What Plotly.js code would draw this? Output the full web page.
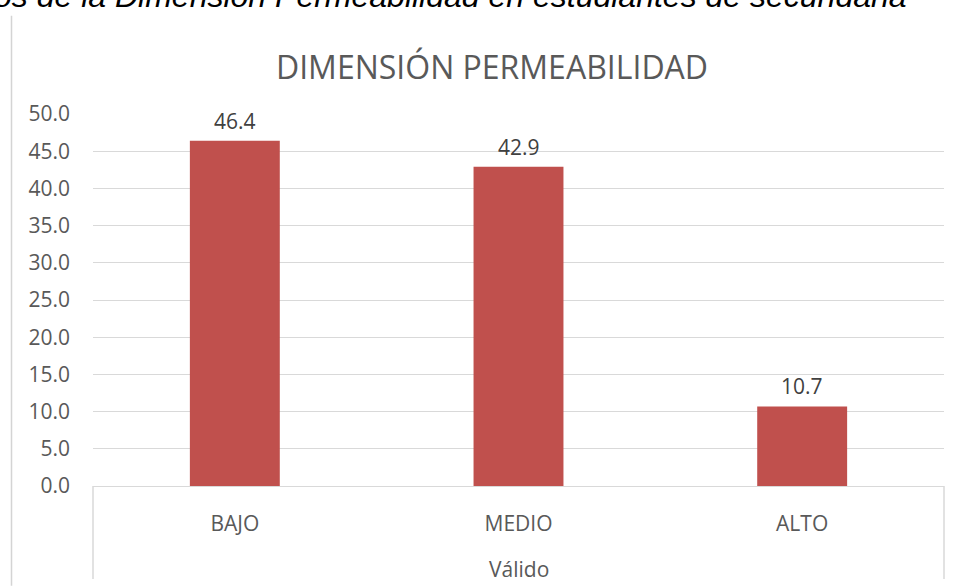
<!DOCTYPE html>
<html>
<head>
<meta charset="utf-8">
<script src="https://cdn.plot.ly/plotly-3.0.1.min.js"></script>
<style>html,body{margin:0;padding:0;background:#fff;}#chart{width:960px;height:586px;}</style>
</head>
<body>
<div id="chart"></div>
<script>
const categories = ["BAJO", "MEDIO", "ALTO"];
const values = [46.4, 42.9, 10.7];
const groupLabel = "Válido";
const chartTitle = "DIMENSIÓN PERMEABILIDAD";
const captionText = "os de la Dimensión Permeabilidad en estudiantes de secundaria";
const yTicks = [0, 5, 10, 15, 20, 25, 30, 35, 40, 45, 50];

const plotTop = 113.5, plotBottom = 486;
const ph = plotBottom - plotTop;
const py = p => (plotBottom - p) / ph;
const pl = 93, pr = 944, pw = pr - pl;
const px = p => (p - pl) / pw;

const trace = {
  type: "bar",
  x: categories,
  y: values,
  marker: {color: "#c0504d"},
  hoverinfo: "none"
};

const valueLabels = categories.map((c, i) => ({
  text: values[i].toFixed(1), xref: "x", yref: "y",
  x: c, y: values[i], yshift: 20, xanchor: "center", yanchor: "middle",
  showarrow: false,
  font: {family: "Open Sans", size: 21, color: "#404040"}
}));

const layout = {
  width: 960, height: 586,
  margin: {l: pl, r: 960 - pr, t: plotTop, b: 586 - plotBottom},
  paper_bgcolor: "#ffffff", plot_bgcolor: "#ffffff",
  showlegend: false,
  bargap: 0.683,
  title: {
    text: chartTitle,
    font: {family: "Open Sans", size: 32, color: "#595959"},
    x: 492 / 960, xref: "container", xanchor: "center",
    y: 1 - 68 / 586, yref: "container", yanchor: "middle"
  },
  xaxis: {
    type: "category",
    showgrid: false, zeroline: false,
    showline: true, linecolor: "#d9d9d9", linewidth: 1,
    ticks: "", ticklabelstandoff: 19,
    tickfont: {family: "Open Sans", size: 21, color: "#595959"}
  },
  yaxis: {
    range: [0, 50],
    tickvals: yTicks,
    ticktext: yTicks.map(v => v.toFixed(1)),
    showgrid: true, gridcolor: "#d9d9d9", gridwidth: 1,
    zeroline: false, showline: false,
    ticks: "", ticklabelstandoff: 22,
    tickfont: {family: "Open Sans", size: 21, color: "#595959"}
  },
  annotations: valueLabels.concat([
    {
      text: groupLabel, xref: "paper", yref: "paper",
      x: 0.5, y: py(569), xanchor: "center", yanchor: "middle",
      showarrow: false,
      font: {family: "Open Sans", size: 21, color: "#595959"}
    },
    {
      text: "<i>" + captionText + "</i>", xref: "paper", yref: "paper",
      x: px(-8), y: py(15), xanchor: "left", yanchor: "bottom",
      showarrow: false,
      font: {family: "Liberation Sans", size: 32, color: "#000000"}
    }
  ]),
  shapes: [
    {type: "line", xref: "x domain", yref: "paper", x0: 0, x1: 0, y0: 0, y1: py(579),
     line: {color: "#d9d9d9", width: 1.5}},
    {type: "line", xref: "x domain", yref: "paper", x0: 1, x1: 1, y0: 0, y1: py(579),
     line: {color: "#d9d9d9", width: 1.5}},
    {type: "line", xref: "paper", yref: "paper", x0: px(11.5), x1: px(11.5), y0: py(586), y1: py(15),
     line: {color: "#d4d4d4", width: 1.5}}
  ]
};

Plotly.newPlot("chart", [trace], layout, {displayModeBar: false, staticPlot: true});
</script>
</body>
</html>
